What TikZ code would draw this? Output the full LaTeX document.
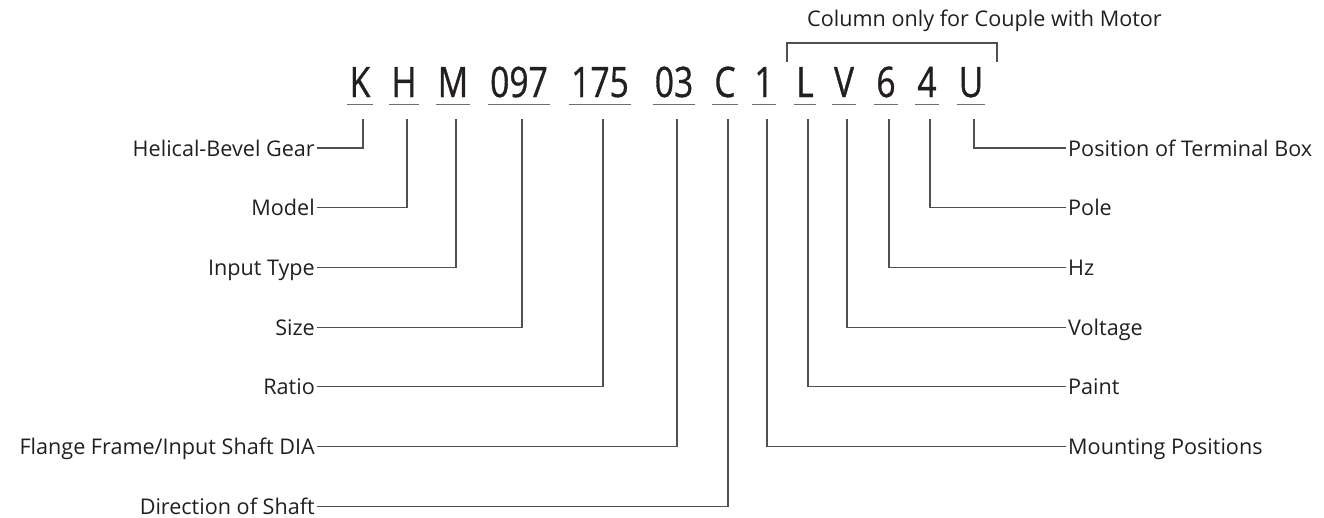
\documentclass[tikz,border=0pt]{standalone}
\usepackage{fontspec}
\setmainfont{Open Sans}
\newfontfamily\codefont[FakeStretch=0.8,FakeBold=0.8]{Open Sans}
\definecolor{textc}{RGB}{35,31,32}
\definecolor{linec}{RGB}{80,80,80}
\definecolor{ulinec}{RGB}{110,110,110}
\tikzset{
  lbl/.style={inner xsep=2pt, inner ysep=0pt, text height=16pt, text depth=0pt,
    font=\fontsize{21.6}{24}\selectfont, text=textc},
  codebox/.style={anchor=base, inner xsep=2pt, inner ysep=7pt, text depth=0pt,
    font=\codefont\fontsize{42}{48}\selectfont, text=textc},
  uline/.style={draw=ulinec, line width=1.3pt},
  conn/.style={draw=linec, line width=1.2pt},
}
\begin{document}
\begin{tikzpicture}[x=1pt, y=-1pt]
\useasboundingbox (0,0) rectangle (1324,517);

% model code characters
\node[codebox] (k)    at (360,97) {K};
\node[codebox] (h)    at (404,97) {H};
\node[codebox] (m)    at (453,97) {M};
\node[codebox] (sz)   at (519,97) {097};
\node[codebox] (ra)   at (600,97) {175};
\node[codebox] (fl)   at (674,97) {03};
\node[codebox] (c)    at (725,97) {C};
\node[codebox] (one)  at (764,97) {1};
\node[codebox] (l)    at (805,97) {L};
\node[codebox] (v)    at (844,97) {V};
\node[codebox] (six)  at (886,97) {6};
\node[codebox] (four) at (927,97) {4};
\node[codebox] (u)    at (971,97) {U};

\foreach \n in {k,h,m,sz,ra,fl,c,one,l,v,six,four,u}
  \draw[uline] (\n.south west) -- (\n.south east);

% motor bracket and its caption
\node[lbl, anchor=base west, inner xsep=0pt] (title) at (807,26.7) {Column only for Couple with Motor};
\coordinate (bl) at (787,62);
\coordinate (br) at (997,62);
\draw[draw=linec, line width=1.1pt] (bl) |- (br |- 0,43) -- (br);

% left-hand descriptions
\node[lbl, anchor=east] (helical) at (317,148)   {Helical-Bevel Gear};
\node[lbl, anchor=east] (model)   at (317,207.7) {Model};
\node[lbl, anchor=east] (input)   at (317,267.4) {Input Type};
\node[lbl, anchor=east] (size)    at (317,327.1) {Size};
\node[lbl, anchor=east] (ratio)   at (317,386.8) {Ratio};
\node[lbl, anchor=east] (flange)  at (317,446.5) {Flange Frame/Input Shaft DIA};
\node[lbl, anchor=east] (dir)     at (317,506.2) {Direction of Shaft};

% right-hand descriptions
\node[lbl, anchor=west] (tbox)  at (1066,148)   {Position of Terminal Box};
\node[lbl, anchor=west] (pole)  at (1066,207.7) {Pole};
\node[lbl, anchor=west] (hz)    at (1066,267.4) {Hz};
\node[lbl, anchor=west] (volt)  at (1066,327.1) {Voltage};
\node[lbl, anchor=west] (paint) at (1066,386.8) {Paint};
\node[lbl, anchor=west] (mount) at (1066,446.5) {Mounting Positions};

% leader lines
\foreach \a/\b in {k/helical, h/model, m/input, sz/size, ra/ratio, fl/flange, c/dir}
  \draw[conn] ([xshift=3pt,yshift=-15pt]\a.south) |- (\b.east);
\foreach \a/\b in {u/tbox, four/pole, six/hz, v/volt, l/paint, one/mount}
  \draw[conn] ([xshift=3pt,yshift=-15pt]\a.south) |- (\b.west);
\end{tikzpicture}
\end{document}
